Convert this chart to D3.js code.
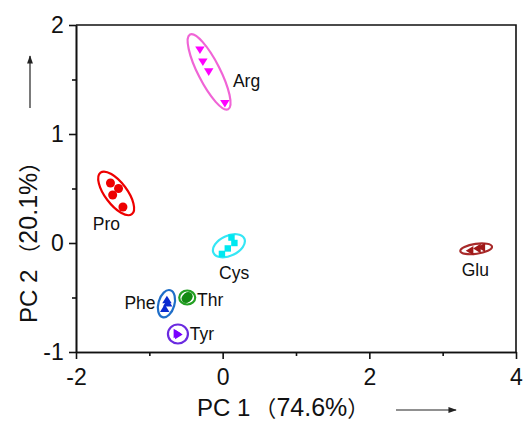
<!DOCTYPE html>
<html>
<head>
<meta charset="utf-8">
<script src="https://cdn.jsdelivr.net/npm/d3@7"></script>
<style>
  body { margin: 0; background: #fff; }
  svg text { font-family: "Liberation Sans", Arial, sans-serif; }
  svg text.ttl { font-family: "Liberation Sans", Arial, "Noto Sans CJK SC", sans-serif; }
</style>
</head>
<body>
<svg id="chart"></svg>
<script>
var W = 523, H = 423;
var margin = {top: 25, right: 7, bottom: 71, left: 76};

// data
var groups = ["Arg", "Pro", "Cys", "Glu", "Phe", "Thr", "Tyr"];
var pc1 = [
  [-0.31, -0.27, -0.19, 0.03],
  [-1.53, -1.42, -1.50, -1.36],
  [0.12, 0.16, 0.07, -0.01],
  [3.47, 3.53, 3.37],
  [-0.76, -0.79, -0.75],
  [-0.48, -0.50, -0.47],
  [-0.62, -0.60]
];
var pc2 = [
  [1.77, 1.66, 1.57, 1.28],
  [0.55, 0.50, 0.44, 0.33],
  [0.05, 0.00, -0.05, -0.10],
  [-0.05, -0.04, -0.07],
  [-0.52, -0.60, -0.55],
  [-0.50, -0.51, -0.49],
  [-0.83, -0.84]
];
var labelX = [0.14, -1.77, -0.05, 3.26, -1.34, -0.35, -0.45];
var labelY = [1.43, 0.12, -0.33, -0.30, -0.61, -0.58, -0.89];
var xTicks = [-2, 0, 2, 4];
var yTicks = [-1, 0, 1, 2];
var xTitle = ["PC 1", "（", "74.6%", "）"];
var yTitle = ["PC 2", "（", "20.1%", "）"];

// styles
var shapes = ["down", "circle", "square", "left", "up", "circle", "right"];
var fillCol = ["#ff00ff", "#ee0000", "#00e8f0", "#a01818", "#0a2ad0", "#138a13", "#7a00ff"];
var ringCol = ["#f064d6", "#ee0000", "#35e6f5", "#a82a2a", "#1f6ec8", "#23a023", "#6a2ae0"];
// ellipse half axes (px) and tilt (deg)
var ringA = [42, 26, 17, 16, 14, 8, 10];
var ringB = [11, 11, 10, 5, 8, 7, 9.5];
var ringRot = [63, 53, -25, -8, -74, 0, 0];

var svg = d3.select("#chart").attr("width", W).attr("height", H);

var x = d3.scaleLinear().domain([-2, 4]).range([margin.left, W - margin.right]);
var y = d3.scaleLinear().domain([-1, 2]).range([H - margin.bottom, margin.top]);

function marker(s, r) {
  if (s == "circle") return d3.symbol(d3.symbolCircle, Math.PI * r * r)();
  if (s == "square") return d3.symbol(d3.symbolSquare, 4 * r * r * 0.8)();
  var h = r * 1.0, w = r * 1.05;
  if (s == "down") return "M" + (-w) + "," + (-h * 0.8) + "L" + w + "," + (-h * 0.8) + "L0," + (h * 0.9) + "Z";
  if (s == "up") return "M" + (-w) + "," + (h * 0.8) + "L" + w + "," + (h * 0.8) + "L0," + (-h * 0.9) + "Z";
  if (s == "left") return "M" + (h * 0.8) + "," + (-w) + "L" + (h * 0.8) + "," + w + "L" + (-h * 0.9) + ",0Z";
  return "M" + (-h * 0.8) + "," + (-w) + "L" + (-h * 0.8) + "," + w + "L" + (h * 0.9) + ",0Z";
}

// groups
groups.forEach(function (name, i) {
  var g = svg.append("g");
  var cx = d3.mean(pc1[i].map(function (v) { return x(v); }));
  var cy = d3.mean(pc2[i].map(function (v) { return y(v); }));
  g.append("ellipse")
    .attr("cx", 0).attr("cy", 0)
    .attr("rx", ringA[i]).attr("ry", ringB[i])
    .attr("transform", "translate(" + cx + "," + cy + ") rotate(" + ringRot[i] + ")")
    .attr("fill", "none")
    .attr("stroke", ringCol[i])
    .attr("stroke-width", 2.2);
  pc1[i].forEach(function (v, j) {
    g.append("path")
      .attr("d", marker(shapes[i], shapes[i] == "square" ? 3.6 : 4.5))
      .attr("transform", "translate(" + x(v) + "," + y(pc2[i][j]) + ")")
      .attr("fill", fillCol[i]);
  });
  g.append("text")
    .attr("x", x(labelX[i]))
    .attr("y", y(labelY[i]))
    .attr("font-size", "17.5px")
    .attr("fill", "#111")
    .text(name);
});

// axes
var fmt = function (d) { return String(d); };
var xAxis = svg.append("g").attr("transform", "translate(0," + y(-1) + ")");
xAxis.call(d3.axisBottom(x).tickValues(xTicks).tickSize(7).tickSizeOuter(0).tickFormat(fmt));
var xMinor = svg.append("g").attr("transform", "translate(0," + y(-1) + ")");
xMinor.call(d3.axisBottom(x).tickValues([-1, 1, 3]).tickSize(4).tickSizeOuter(0).tickFormat(""));
var yAxis = svg.append("g").attr("transform", "translate(" + x(-2) + ",0)");
yAxis.call(d3.axisLeft(y).tickValues(yTicks).tickSize(7).tickSizeOuter(0).tickFormat(fmt));
var yMinor = svg.append("g").attr("transform", "translate(" + x(-2) + ",0)");
yMinor.call(d3.axisLeft(y).tickValues([-0.5, 0.5, 1.5]).tickSize(4).tickSizeOuter(0).tickFormat(""));

svg.selectAll(".domain, .tick line").attr("stroke", "#111").attr("stroke-width", 1.6);
xAxis.selectAll("text").attr("font-size", "23px").attr("fill", "#111").attr("dy", "1.0em");
yAxis.selectAll("text").attr("font-size", "23px").attr("fill", "#111").attr("dx", "-0.1em");

// top and right borders
svg.append("path")
  .attr("d", "M" + x(-2) + "," + y(2) + "H" + x(4) + "V" + y(-1))
  .attr("fill", "none").attr("stroke", "#111").attr("stroke-width", 1.6);

// axis titles
svg.append("defs").append("marker")
  .attr("id", "arr").attr("viewBox", "0 0 10 10")
  .attr("refX", 9).attr("refY", 5)
  .attr("markerWidth", 7).attr("markerHeight", 7)
  .attr("orient", "auto")
  .append("path").attr("d", "M0,1.5L10,5L0,8.5Z").attr("fill", "#222");

function title(sel, parts) {
  sel.attr("class", "ttl").attr("font-size", "24px").attr("fill", "#111");
  sel.append("tspan").text(parts[0]);
  sel.append("tspan").attr("font-family", "Noto Sans CJK SC").attr("font-size", "22px").attr("dx", 4).text(parts[1]);
  sel.append("tspan").attr("font-size", "25px").text(parts[2]);
  sel.append("tspan").attr("font-family", "Noto Sans CJK SC").attr("font-size", "22px").text(parts[3]);
}

svg.append("text")
  .attr("x", 197).attr("y", 416)
  .call(title, xTitle);
svg.append("line")
  .attr("x1", 396).attr("y1", 410).attr("x2", 456).attr("y2", 410)
  .attr("stroke", "#222").attr("stroke-width", 1.2)
  .attr("marker-end", "url(#arr)");

svg.append("text")
  .attr("transform", "translate(37,323) rotate(-90)")
  .call(title, yTitle);
svg.append("line")
  .attr("x1", 30).attr("y1", 108).attr("x2", 30).attr("y2", 56)
  .attr("stroke", "#222").attr("stroke-width", 1.2)
  .attr("marker-end", "url(#arr)");
</script>
</body>
</html>
